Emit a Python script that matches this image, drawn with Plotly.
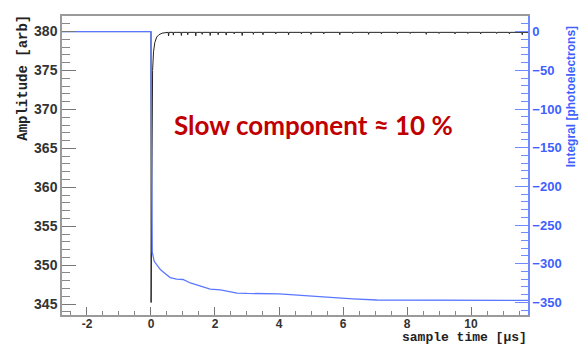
import plotly.graph_objects as go

# Amplitude trace (left axis, arb units) vs sample time in µs:
# pulse at t = 0 followed by the recovered baseline
t_amp = [-2.8, -2.0, -1.0, -0.01, 0.0, 0.004, 0.012, 0.02, 0.03, 0.05, 0.08,
         0.12, 0.18, 0.25, 0.35, 0.45]
amp = [380.0, 380.0, 380.0, 380.0, 380.0, 345.2, 350.0, 360.0, 368.0, 375.0,
       377.4, 378.6, 379.3, 379.6, 379.8, 379.85]

# Small negative noise spikes on the baseline after the pulse
spike_t = [0.55, 0.7, 0.95, 1.15, 1.4, 1.6, 1.85, 2.1, 2.35, 2.6, 2.85, 3.2,
           3.5, 3.9, 4.3, 4.7, 5.0, 5.4, 5.9, 6.3, 6.8, 7.2, 7.7, 8.1, 8.6,
           9.0, 9.5, 9.9, 10.3, 10.8, 11.2, 11.6]
spike_amp = [379.45, 379.55, 379.5, 379.6, 379.45, 379.65, 379.5, 379.6,
             379.55, 379.7, 379.5, 379.65, 379.6, 379.7, 379.6, 379.7,
             379.65, 379.7, 379.6, 379.75, 379.65, 379.7, 379.7, 379.75,
             379.65, 379.75, 379.7, 379.75, 379.7, 379.75, 379.7, 379.6]
baseline = 379.9
amp_end = 11.8

# Running integral (right axis, photoelectrons)
t_int = [-2.8, 0.0, 0.004, 0.02, 0.04, 0.1, 0.2, 0.3, 0.45, 0.6, 0.8, 1.0,
         1.23, 1.4, 1.54, 1.7, 1.85, 2.17, 2.4, 2.69, 3.0, 3.5, 4.0, 4.35,
         4.7, 5.08, 5.5, 5.8, 6.3, 7.06, 8.0, 9.0, 10.0, 11.0, 11.8]
integ = [0.0, 0.0, -60.0, -250.0, -285.0, -297.0, -303.0, -308.0, -313.0,
         -318.0, -320.0, -320.5, -325.0, -327.0, -329.0, -331.0, -333.0,
         -334.0, -336.0, -338.0, -338.5, -338.5, -339.0, -340.0, -341.0,
         -342.0, -344.0, -345.0, -345.5, -347.0, -347.0, -347.0, -347.3,
         -347.5, -347.5]

x_ticks = [-2, 0, 2, 4, 6, 8, 10]
amp_ticks = [345, 350, 355, 360, 365, 370, 375, 380]
int_ticks = [0, -50, -100, -150, -200, -250, -300, -350]

# assemble the amplitude line: each spike is a narrow dip off the baseline
ax, ay = list(t_amp), list(amp)
for st, sa in zip(spike_t, spike_amp):
    ax += [st - 0.012, st, st + 0.012]
    ay += [baseline, sa, baseline]
ax.append(amp_end)
ay.append(baseline)

BLUE_AXIS = "#6f8bff"
BLUE_TEXT = "#3f5fff"
BLUE_LINE = "#5a78ff"
GREY = "#9a9a9a"

fig = go.Figure()
fig.add_trace(go.Scatter(x=ax, y=ay, mode="lines",
                         line=dict(color="#222222", width=1),
                         showlegend=False, yaxis="y"))
fig.add_trace(go.Scatter(x=t_int, y=integ, mode="lines",
                         line=dict(color=BLUE_LINE, width=1.3),
                         showlegend=False, yaxis="y2"))

fig.update_layout(
    width=587, height=347,
    margin=dict(l=62, r=59, t=16, b=32),
    paper_bgcolor="white", plot_bgcolor="white",
    xaxis=dict(range=[-2.78, 11.78], tickvals=x_ticks,
               ticktext=[str(v) for v in x_ticks],
               ticks="inside", ticklen=8, tickwidth=1.2, tickcolor="#777777",
               minor=dict(dtick=0.5, tick0=0, ticks="inside", ticklen=4,
                          tickcolor="#888888", tickwidth=1),
               showgrid=False, zeroline=False, ticklabelstandoff=-3,
               showline=True, linecolor=GREY, linewidth=1.5, mirror=True,
               tickfont=dict(color="#333333", family="Liberation Sans",
                             size=12, weight="bold")),
    yaxis=dict(range=[343.6, 382.0], tickvals=amp_ticks,
               ticks="inside", ticklen=14, tickwidth=1.2, tickcolor="#777777",
               minor=dict(dtick=1, tick0=345, ticks="inside", ticklen=8,
                          tickcolor="#888888", tickwidth=1),
               showgrid=False, zeroline=False,
               showline=True, linecolor=GREY, linewidth=1.5,
               tickfont=dict(color="#333333", family="Liberation Sans",
                             size=14, weight="bold")),
    yaxis2=dict(range=[-366.4, 20.3], tickvals=int_ticks,
                overlaying="y", side="right",
                ticks="inside", ticklen=13, tickwidth=1.2, tickcolor=BLUE_AXIS,
                minor=dict(dtick=10, tick0=0, ticks="inside", ticklen=7,
                           tickcolor=BLUE_AXIS, tickwidth=1),
                showgrid=False, zeroline=False,
                showline=True, linecolor=BLUE_AXIS, linewidth=1.5,
                tickfont=dict(color=BLUE_TEXT, family="Liberation Sans",
                              size=13, weight="bold")),
)

fig.add_annotation(text="Amplitude [arb]", xref="paper", yref="paper",
                   x=-0.084, y=0.793, xanchor="center", yanchor="middle",
                   textangle=-90, showarrow=False,
                   font=dict(family="Liberation Mono", size=14,
                             weight="bold", color="#222222"))
fig.add_annotation(text="sample time [µs]", xref="paper", yref="paper",
                   x=1.0, xanchor="right", y=-0.1037, yanchor="bottom",
                   borderpad=0, showarrow=False,
                   font=dict(family="Liberation Mono", size=13,
                             weight="bold", color="#222222"))
fig.add_annotation(text="Integral [photoelectrons]", xref="paper",
                   yref="paper", x=1.094, y=0.731, xanchor="center",
                   yanchor="middle", textangle=-90, showarrow=False,
                   font=dict(family="Liberation Sans", size=12,
                             weight="bold", color=BLUE_TEXT))
fig.add_annotation(text="Slow component ≈ 10 %", xref="paper", yref="paper",
                   x=0.539, y=0.635, xanchor="center", yanchor="middle",
                   showarrow=False,
                   font=dict(family="Lato", size=26, weight="bold",
                             color="#c00000"))

fig.write_html("out.html")
